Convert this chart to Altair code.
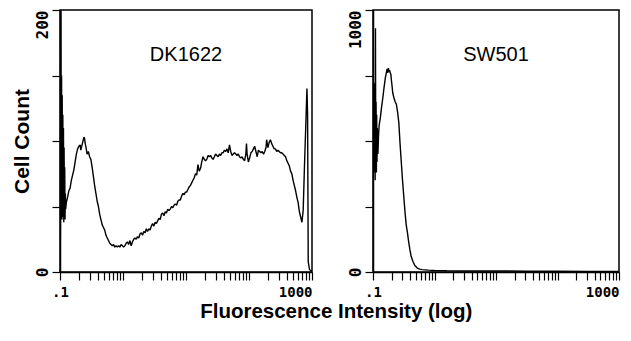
import altair as alt
import pandas as pd

# ---- DK1622 histogram (log10 of intensity, cell count) ----
dk_log = [-1.000, -0.995, -0.990, -0.985, -0.980, -0.975, -0.970, -0.965, -0.960, -0.955,
          -0.950, -0.945, -0.940, -0.935, -0.930, -0.925, -0.920, -0.915, -0.91, -0.90,
          -0.89, -0.88, -0.86, -0.84, -0.82, -0.80, -0.78, -0.76, -0.74, -0.72,
          -0.70, -0.68, -0.67, -0.66, -0.64, -0.62, -0.61, -0.60, -0.59, -0.57,
          -0.55, -0.53, -0.51, -0.49, -0.47, -0.45, -0.43, -0.41, -0.39, -0.37,
          -0.35, -0.33, -0.31, -0.29, -0.27, -0.25, -0.23, -0.21, -0.19, -0.17,
          -0.15, -0.13, -0.11, -0.09, -0.07, -0.05, -0.03, -0.01, 0.01, 0.03,
          0.05, 0.07, 0.09, 0.11, 0.13, 0.15, 0.17, 0.19, 0.21, 0.23,
          0.25, 0.27, 0.29, 0.31, 0.33, 0.35, 0.37, 0.39, 0.41, 0.43,
          0.45, 0.47, 0.49, 0.51, 0.53, 0.55, 0.57, 0.59, 0.61, 0.63,
          0.65, 0.67, 0.69, 0.71, 0.73, 0.75, 0.77, 0.79, 0.81, 0.83,
          0.85, 0.87, 0.89, 0.91, 0.93, 0.95, 0.97, 0.99, 1.01, 1.03,
          1.05, 1.07, 1.09, 1.11, 1.13, 1.15, 1.17, 1.19, 1.21, 1.23,
          1.25, 1.27, 1.29, 1.31, 1.33, 1.35, 1.37, 1.39, 1.41, 1.43,
          1.45, 1.47, 1.49, 1.51, 1.53, 1.55, 1.57, 1.59, 1.61, 1.63,
          1.65, 1.67, 1.69, 1.71, 1.73, 1.75, 1.77, 1.79, 1.81, 1.83,
          1.85, 1.87, 1.89, 1.91, 1.93, 1.95, 1.96, 1.97, 1.99, 2.01,
          2.03, 2.05, 2.07, 2.09, 2.11, 2.13, 2.15, 2.17, 2.19, 2.21,
          2.23, 2.25, 2.27, 2.28, 2.30, 2.32, 2.34, 2.36, 2.38, 2.40,
          2.42, 2.44, 2.46, 2.48, 2.50, 2.52, 2.54, 2.56, 2.58, 2.60,
          2.62, 2.64, 2.66, 2.68, 2.70, 2.72, 2.74, 2.76, 2.78, 2.80,
          2.82, 2.84, 2.86, 2.88, 2.90, 2.91, 2.92, 2.93, 2.94, 2.96,
          2.98, 3.00]
dk_count = [0, 20, 60, 200, 45, 150, 40, 135, 55, 120,
            42, 110, 38, 95, 45, 80, 40, 60, 48, 53,
            55, 57, 62, 64, 70, 74, 78, 84, 90, 94,
            96, 97, 93, 95, 99, 103, 102, 98, 96, 90,
            92, 88, 86, 80, 73, 66, 60, 54, 50, 44,
            40, 36, 34, 32, 28, 26, 24, 22, 21, 20,
            21, 19, 20, 19, 20, 19, 21, 20, 19, 20,
            22, 23, 21, 24, 20, 23, 25, 26, 25, 27,
            26, 29, 30, 28, 31, 30, 33, 31, 33, 32,
            35, 37, 35, 38, 37, 39, 41, 40, 44, 45,
            43, 46, 45, 48, 47, 48, 50, 49, 51, 52,
            51, 54, 55, 55, 58, 60, 59, 61, 61, 63,
            65, 66, 68, 70, 72, 75, 74, 82, 77, 79,
            84, 88, 86, 85, 86, 89, 88, 89, 87, 86,
            88, 90, 89, 88, 90, 89, 91, 91, 93, 92,
            94, 91, 97, 92, 89, 90, 91, 90, 89, 90,
            88, 87, 88, 86, 85, 90, 98, 90, 84, 87,
            91, 92, 94, 96, 92, 88, 93, 92, 91, 92,
            90, 92, 95, 101, 95, 99, 101, 98, 96, 94,
            94, 92, 93, 92, 91, 91, 90, 89, 88, 85,
            83, 81, 77, 75, 70, 66, 62, 57, 53, 46,
            42, 38, 47, 80, 110, 125, 140, 120, 8, 2,
            1, 1]

# ---- SW501 histogram ----
sw_log = [-1.000, -0.995, -0.990, -0.985, -0.980, -0.975, -0.970, -0.965, -0.960, -0.955,
          -0.950, -0.945, -0.940, -0.935, -0.930, -0.920, -0.910, -0.900, -0.88, -0.86,
          -0.84, -0.82, -0.80, -0.78, -0.77, -0.76, -0.75, -0.74, -0.73, -0.72,
          -0.71, -0.70, -0.69, -0.68, -0.66, -0.64, -0.62, -0.60, -0.58, -0.56,
          -0.54, -0.52, -0.50, -0.48, -0.46, -0.44, -0.42, -0.40, -0.38, -0.35,
          -0.32, -0.28, -0.24, -0.20, -0.10, 0.0, 0.2, 0.5, 1.0, 1.5,
          2.0, 2.5, 3.0]
sw_count = [0, 400, 700, 380, 720, 420, 600, 350, 930, 450,
            650, 380, 600, 420, 550, 450, 520, 560, 590, 630,
            665, 705, 740, 765, 775, 760, 778, 765, 770, 760,
            755, 730, 710, 685, 665, 650, 640, 610, 570, 490,
            420, 350, 290, 230, 180, 150, 115, 85, 60, 40,
            25, 15, 11, 9, 7, 6, 5, 4, 4, 3,
            3, 2, 2]

x_ticks = [0.1, 0.2, 0.3, 0.4, 0.5, 0.6, 0.7, 0.8, 0.9,
           1, 2, 3, 4, 5, 6, 7, 8, 9,
           10, 20, 30, 40, 50, 60, 70, 80, 90,
           100, 200, 300, 400, 500, 600, 700, 800, 900, 1000]
dk_yticks = [0, 50, 100, 150, 200]
sw_yticks = [0, 250, 500, 750, 1000]

H = 262
MONO = "DejaVu Sans Mono"
SANS = "Liberation Sans"


def panel(logs, counts, label, ymax, yticks, ytitle, width):
    df = pd.DataFrame({"x": [10 ** v for v in logs], "count": counts})
    yaxis = dict(
        values=yticks,
        labelExpr="datum.value == 0 ? '0' : (datum.value == %d ? '%d' : '')" % (ymax, ymax),
        labelAngle=-90,
        labelAlign={"condition": {"test": "datum.value >= %d" % ymax, "value": "right"}, "value": "center"},
        labelBaseline="bottom",
        labelFontSize=16,
        labelPadding=2,
        tickSize=8,
        grid=False,
    )
    if ytitle:
        yaxis.update(title=ytitle, titleFont=SANS, titleFontSize=21, titleFontWeight="bold",
                     titlePadding=2, titleColor="black")
    else:
        yaxis.update(title=None)
    line = alt.Chart(df).mark_line(color="black", strokeWidth=1.4, strokeJoin="bevel", clip=True).encode(
        x=alt.X("x:Q",
                scale=alt.Scale(type="log", domain=[0.1, 1000], nice=False),
                axis=alt.Axis(values=x_ticks,
                              labelExpr="datum.value == 0.1 ? '.1' : (datum.value == 1000 ? '1000' : '')",
                              labelAlign={"condition": {"test": "datum.value >= 1000", "value": "right"},
                                          "value": "center"},
                              labelFontSize=14, tickSize=8, labelPadding=5, grid=False, title=None)),
        y=alt.Y("count:Q", scale=alt.Scale(domain=[0, ymax], nice=False),
                axis=alt.Axis(**yaxis)),
    )
    txt = alt.Chart(pd.DataFrame({"t": [label]})).mark_text(
        font=SANS, fontSize=20, color="black", baseline="middle", align="center"
    ).encode(text="t:N", x=alt.value(width / 2), y=alt.value(45))
    return alt.layer(line, txt).properties(width=width, height=H)


left = panel(dk_log, dk_count, "DK1622", 200, dk_yticks, "Cell Count", 252)
right = panel(sw_log, sw_count, "SW501", 1000, sw_yticks, None, 246)

chart = alt.hconcat(left, right, spacing=32).properties(
    title=alt.TitleParams("Fluorescence Intensity (log)", orient="bottom", anchor="middle",
                          font=SANS, fontSize=20.5, fontWeight="bold", color="black", offset=2, dx=21),
    padding={"left": 2, "top": 0, "right": 0, "bottom": 0},
).configure_view(stroke="black", strokeWidth=1.5).configure_axis(
    domainColor="black", domainWidth=1.5, tickColor="black", tickWidth=1.2,
    labelColor="black", labelFont=MONO, labelFontWeight="bold",
)

chart.save("out.html", embed_options={"renderer": "svg", "actions": False})
